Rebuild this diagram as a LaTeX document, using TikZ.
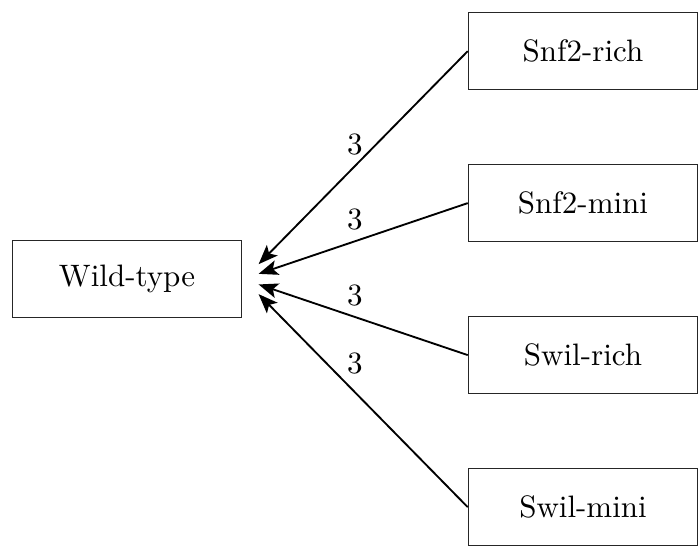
\documentclass[tikz,border=0pt]{standalone}
\usepackage{tikz}
\usetikzlibrary{arrows.meta,positioning,calc}

\begin{document}
\begin{tikzpicture}[
    strain/.style={draw=black!85, minimum width=2.6cm, minimum height=0.873cm, inner sep=0pt},
    flow/.style={-{Stealth[length=2.2mm,width=1.7mm,inset=0.5mm]}, semithick}
  ]
    \useasboundingbox (0,0) rectangle (7.925,6.26);

    % Strains
    \node[strain] (wt) at (1.44,3.095) {Wild-type};
    \node[strain] (snfrich) at (6.61,5.68) {Snf2-rich};
    \node[strain] (snfmini) at (6.61,3.957) {Snf2-mini};
    \node[strain] (swilrich) at (6.61,2.234) {Swil-rich};
    \node[strain] (swilmini) at (6.61,0.51) {Swil-mini};

    % Arrow ends
    \coordinate (in1) at ($(wt.east)+(0.185,0.17)$);
    \coordinate (in2) at ($(wt.east)+(0.185,0.06)$);
    \coordinate (in3) at ($(wt.east)+(0.185,-0.06)$);
    \coordinate (in4) at ($(wt.east)+(0.185,-0.17)$);

    % Transitions
    \draw[flow] (snfrich.west) -- (in1) node[pos=0.54, above] {3};
    \draw[flow] (snfmini.west) -- (in2) node[pos=0.54, above] {3};
    \draw[flow] (swilrich.west) -- (in3) node[pos=0.54, above] {3};
    \draw[flow] (swilmini.west) -- (in4) node[pos=0.54, above, yshift=2pt] {3};
\end{tikzpicture}
\end{document}
